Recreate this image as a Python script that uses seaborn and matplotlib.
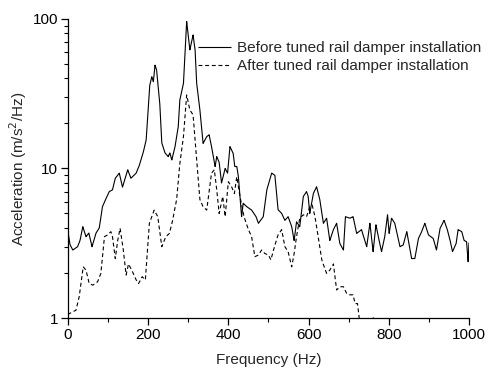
import matplotlib
matplotlib.use("Agg")
import matplotlib.pyplot as plt
from matplotlib.ticker import FixedLocator, LogLocator, NullFormatter
import numpy as np
import pandas as pd
import seaborn as sns

# Acceleration spectra (m/s^2/Hz) measured before and after fitting the rail damper
freq_before = [0, 5, 12, 24, 30, 37, 45, 52, 60, 70, 78, 86, 95, 103, 111, 118, 128, 136,
               149, 157, 170, 178, 188, 195, 204, 209, 213, 217, 221, 229, 234, 242, 250,
               254, 259, 267, 275, 279, 288, 296, 304, 312, 317, 321, 329, 337, 346, 352,
               358, 367, 371, 377, 383, 392, 398, 404, 412, 416, 421, 425, 433, 437, 446,
               458, 469, 475, 487, 496, 508, 516, 524, 533, 541, 549, 558, 564, 570, 578,
               587, 595, 599, 603, 612, 620, 628, 637, 645, 653, 662, 670, 678, 687, 692,
               703, 711, 720, 732, 745, 753, 761, 768, 776, 782, 790, 797, 801, 807, 815,
               828, 836, 845, 851, 857, 865, 874, 882, 890, 899, 911, 919, 928, 938, 946,
               953, 959, 968, 973, 982, 988, 994, 998, 1000]
accel_before = [3.8, 3.1, 2.85, 3.0, 3.3, 4.08, 3.5, 3.7, 3.0, 3.7, 4.0, 5.55, 6.3, 7.0, 7.2,
                8.6, 9.3, 7.5, 9.8, 8.6, 9.3, 10.5, 12.9, 15.5, 36, 41, 38, 49, 45.6, 27,
                14.8, 12.7, 12, 12.7, 11.4, 14, 19, 28.7, 37, 96, 62, 78, 62, 37, 24.6, 14.7,
                16.3, 16.8, 14, 10.3, 12, 11, 8.0, 10, 9.3, 14, 12.6, 10.3, 10.3, 8.8, 4.76,
                5.85, 5.55, 5.27, 4.76, 4.3, 4.76, 7.2, 9.3, 9.0, 5.3, 5.0, 4.5, 4.76, 4.08,
                3.3, 4.4, 4.08, 6.5, 7.0, 6.5, 5.0, 6.8, 7.55, 6.2, 4.3, 4.65, 3.3, 3.9, 4.3,
                3.15, 2.85, 4.76, 4.65, 4.76, 3.68, 3.9, 3.0, 4.3, 2.78, 4.2, 3.3, 2.78, 3.5,
                4.9, 3.68, 4.65, 4.3, 3.0, 3.08, 3.78, 3.08, 2.5, 2.5, 3.4, 3.78, 4.3, 3.6,
                3.4, 2.85, 3.98, 4.5, 3.9, 3.3, 2.78, 3.15, 3.9, 3.78, 3.3, 3.24, 2.38, 3.2]

freq_after = [0, 3, 12, 20, 28, 38, 45, 53, 62, 74, 82, 91, 99, 107, 111, 118, 124, 130, 138,
              145, 151, 161, 170, 176, 185, 193, 203, 215, 224, 234, 244, 253, 261, 266, 271,
              279, 288, 296, 304, 312, 321, 329, 337, 346, 358, 365, 371, 377, 386, 392, 400,
              408, 415, 421, 429, 439, 450, 458, 466, 475, 483, 491, 500, 506, 515, 524, 533,
              541, 549, 558, 564, 570, 578, 587, 595, 603, 609, 616, 624, 633, 639, 645, 653,
              662, 670, 678, 687, 695, 703, 711, 716, 722, 726, 730, 745, 758, 762, 766]
accel_after = [1.05, 1.07, 1.1, 1.13, 1.39, 2.2, 2.09, 1.7, 1.66, 1.75, 1.99, 3.5, 3.6, 3.78,
               3.5, 2.5, 3.3, 3.98, 2.85, 1.94, 2.3, 2.04, 1.8, 1.7, 1.89, 1.8, 4.3, 5.27,
               4.76, 3.0, 3.5, 3.68, 4.5, 5.3, 6.2, 10.8, 16.3, 31, 24.6, 22.8, 11.4, 6.2,
               5.55, 5.27, 9.3, 9.8, 7.2, 5.0, 6.5, 4.76, 8.15, 7.55, 6.8, 8.8, 6.5, 4.76,
               3.9, 3.5, 2.57, 2.64, 2.85, 2.7, 2.64, 2.45, 3.0, 3.6, 3.9, 3.0, 2.78, 2.2,
               2.7, 3.5, 4.65, 4.9, 4.76, 5.55, 5.7, 4.76, 3.5, 2.45, 2.2, 1.99, 2.09, 2.3,
               1.54, 1.62, 1.62, 1.46, 1.43, 1.43, 1.25, 1.25, 1.02, 0.7, 0.7, 0.9, 1.02, 0.9]

series_labels = ["Before tuned rail damper installation",
                 "After tuned rail damper installation"]
x_ticks = [0, 200, 400, 600, 800, 1000]
y_ticks = [1, 10, 100]

df = pd.concat([
    pd.DataFrame({"freq": freq_before, "accel": accel_before, "state": series_labels[0]}),
    pd.DataFrame({"freq": freq_after, "accel": accel_after, "state": series_labels[1]}),
], ignore_index=True)

sns.set_style("ticks")
plt.rcParams["font.family"] = ["Liberation Sans", "DejaVu Sans"]
plt.rcParams["font.size"] = 11

fig = plt.figure(figsize=(4.89, 3.69), dpi=100)
ax = fig.add_axes([0.139, 0.138, 0.820, 0.811])

sns.lineplot(data=df, x="freq", y="accel", hue="state", style="state",
             hue_order=series_labels, style_order=series_labels,
             palette=["black", "black"], dashes=[(1, 0), (3.5, 2.5)],
             linewidth=0.8, sort=False, estimator=None, ax=ax)

ax.set_yscale("log")
ax.set_xlim(0, 1000)
ax.set_ylim(1, 100)
ax.xaxis.set_major_locator(FixedLocator(x_ticks))
ax.xaxis.set_minor_locator(FixedLocator(np.arange(100, 1000, 200)))
ax.yaxis.set_major_locator(FixedLocator(y_ticks))
ax.yaxis.set_minor_locator(LogLocator(base=10, subs=np.arange(2, 10)))
ax.yaxis.set_minor_formatter(NullFormatter())
ax.set_xticklabels([str(t) for t in x_ticks])
ax.set_yticklabels([str(t) for t in y_ticks])

for side in ("top", "right"):
    ax.spines[side].set_visible(False)
for side in ("left", "bottom"):
    ax.spines[side].set_linewidth(0.9)
    ax.spines[side].set_color("black")
ax.tick_params(which="major", direction="out", length=5, width=0.9,
               labelsize=11, colors="black", pad=2)
ax.tick_params(which="minor", direction="out", length=3, width=0.8, colors="black")

ax.set_xlabel("Frequency (Hz)", fontsize=11, labelpad=8)
ax.set_ylabel("Acceleration (m/s$^2$/Hz)", fontsize=11, labelpad=3)

leg = ax.legend(loc="upper left", bbox_to_anchor=(0.309, 0.9465), frameon=False,
                fontsize=11, handlelength=2.16, handletextpad=0.39,
                labelspacing=0.26, borderaxespad=0)

fig.savefig("out.png", dpi=100)
